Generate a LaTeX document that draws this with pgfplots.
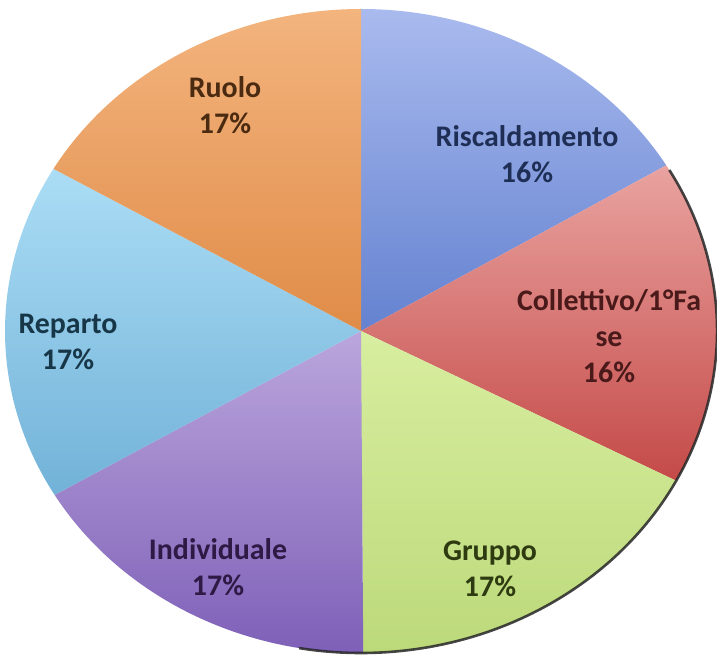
\documentclass[border=0pt]{standalone}
\usepackage{pgfplots}
\usepackage{pgfplotstable}
\pgfplotsset{compat=1.18}
\usepackage{fontspec}
\setmainfont{Carlito}

\pgfplotstableread{
label value
Riscaldamento 16.4
Collettivo 16.3
Gruppo 17.2
Individuale 16.6
Reparto 16.9
Ruolo 16.6
}\piedata

% slice colours (top / bottom of the gradient)
\definecolor{c0t}{HTML}{A9BAEE}\definecolor{c0b}{HTML}{6482D0}
\definecolor{c1t}{HTML}{E9A3A0}\definecolor{c1b}{HTML}{C44A48}
\definecolor{c2t}{HTML}{D8EEA0}\definecolor{c2b}{HTML}{BCD97A}
\definecolor{c3t}{HTML}{BBA6DC}\definecolor{c3b}{HTML}{7E60B8}
\definecolor{c4t}{HTML}{ABDDF5}\definecolor{c4b}{HTML}{72B2D8}
\definecolor{c5t}{HTML}{F3B47E}\definecolor{c5b}{HTML}{E08C48}
\definecolor{t0}{HTML}{1E2E55}\definecolor{t1}{HTML}{4A1A1A}
\definecolor{t2}{HTML}{2E3A10}\definecolor{t3}{HTML}{2E1A45}
\definecolor{t4}{HTML}{173748}\definecolor{t5}{HTML}{4A2A10}

% cumulative angles from the data, clockwise from 12 o'clock
\def\cum{90}
\pgfplotsforeachungrouped \i in {0,...,5}{%
  \pgfplotstablegetelem{\i}{value}\of\piedata
  \pgfmathsetmacro\endang{\cum-3.6*\pgfplotsretval}%
  \expandafter\xdef\csname sA\i\endcsname{\cum}%
  \expandafter\xdef\csname eA\i\endcsname{\endang}%
  \xdef\cum{\endang}%
}

\begin{document}
\begin{tikzpicture}
\begin{axis}[
  scale only axis, width=717bp, height=657bp,
  xmin=0, xmax=717, ymin=0, ymax=657,
  hide axis, clip=false,
]
\coordinate (ll) at (axis cs:0,0);
\coordinate (ur) at (axis cs:717,657);
\pgfplotsinvokeforeach{0,...,5}{%
  \edef\temp{\noexpand\shade[top color=c#1t, bottom color=c#1b]
    (axis cs:361,326) -- ++(\csname sA#1\endcsname:356bp and 322bp)
    arc[start angle=\csname sA#1\endcsname, end angle=\csname eA#1\endcsname,
        x radius=356bp, y radius=322bp] -- cycle;}%
  \temp
}
% dark rim on the lower right
\draw[black!85, line width=2.6bp, opacity=0.85]
  (axis cs:361,326) ++(30:356bp and 322bp)
  arc[start angle=30, end angle=-100, x radius=356bp, y radius=322bp];

\tikzset{lbl/.style={font=\fontsize{30}{36}\selectfont\bfseries, align=center}}
\node[lbl, text=t0] at (axis cs:527,503) {Riscaldamento\\16\%};
\node[lbl, text=t1] at (axis cs:609,321) {Collettivo/1°Fa\\se\\16\%};
\node[lbl, text=t2] at (axis cs:490,88) {Gruppo\\17\%};
\node[lbl, text=t3] at (axis cs:218,90) {Individuale\\17\%};
\node[lbl, text=t4] at (axis cs:68,315) {Reparto\\17\%};
\node[lbl, text=t5] at (axis cs:225,552) {Ruolo\\17\%};
\end{axis}
\pgfresetboundingbox
\path[use as bounding box] (ll) rectangle (ur);
\end{tikzpicture}
\end{document}
